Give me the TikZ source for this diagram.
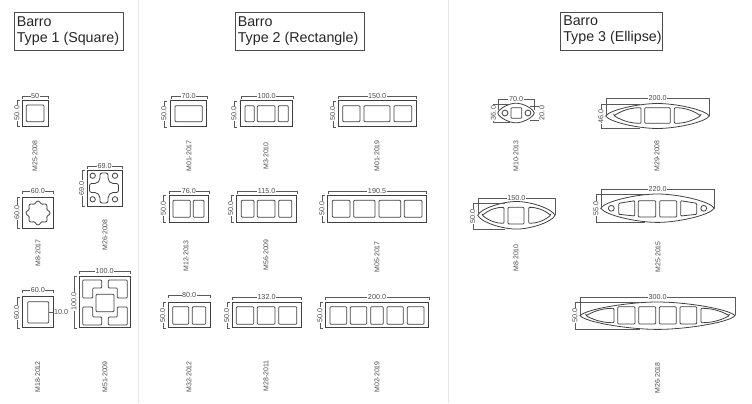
\documentclass[tikz,border=0pt]{standalone}
\usepackage{fontspec}
\setmainfont{Liberation Sans}
\tikzset{
  wall/.style={draw=black!75,line width=0.6pt},
  cell/.style={draw=black!75,line width=0.6pt,rounded corners=0.7pt},
  dimline/.style={draw=black!65,line width=0.3pt},
  dimtext/.style={font=\fontsize{5.4}{6}\selectfont,text=black!70,fill=white,inner sep=0.4pt},
  codetext/.style={font=\fontsize{5.2}{6}\selectfont,text=black!70,rotate=90},
  titlebox/.style={draw=black!70,line width=0.5pt,inner sep=0pt},
  titletext/.style={font=\fontsize{10.7}{11.8}\selectfont,text=black!85,align=left,inner sep=0pt,anchor=west},
  divider/.style={draw=black!10,line width=1.1pt}
}
% name, x1, x2, y of the line, y where the ends stop, text
\newcommand{\dimh}[6]{\draw[dimline] (#2,#5) -- (#2,#4) -- node[dimtext] (#1) {#6} (#3,#4) -- (#3,#5);}
% name, x of the line, y1, y2, x where the ends stop, text
\newcommand{\dimv}[6]{\draw[dimline] (#5,#3) -- (#2,#3) -- node[dimtext,rotate=90] (#1) {#6} (#2,#4) -- (#5,#4);}
% outer shape: x1, x2, y of the axis, half height
\newcommand{\lens}[4]{\draw[wall] (#1,#3)
  .. controls ({#1+0.04*(#2-#1)},{#3-0.5*#4}) and ({#1+0.32*(#2-#1)},{#3-#4}) .. ({(#1+#2)/2},{#3-#4})
  .. controls ({#2-0.32*(#2-#1)},{#3-#4}) and ({#2-0.04*(#2-#1)},{#3-0.5*#4}) .. (#2,#3)
  .. controls ({#2-0.04*(#2-#1)},{#3+0.5*#4}) and ({#2-0.32*(#2-#1)},{#3+#4}) .. ({(#1+#2)/2},{#3+#4})
  .. controls ({#1+0.32*(#2-#1)},{#3+#4}) and ({#1+0.04*(#2-#1)},{#3+0.5*#4}) .. (#1,#3) -- cycle;}
% end cell: tip x, flat x, y of the axis, y top, y bottom
\newcommand{\tipcell}[5]{\draw[cell] (#1,#3)
  .. controls ({#1+0.35*(#2-#1)},{#4+0.25*(#3-#4)}) and ({#1+0.65*(#2-#1)},#4) .. (#2,#4) -- (#2,#5)
  .. controls ({#1+0.65*(#2-#1)},#5) and ({#1+0.35*(#2-#1)},{#5-0.25*(#5-#3)}) .. (#1,#3) -- cycle;}
\begin{document}
\begin{tikzpicture}[x=0.75pt,y=-0.75pt]
    \useasboundingbox (0,0) rectangle (752,403);
    \draw[divider] (138.5,0) -- (138.5,403);
    \draw[divider] (448.5,0) -- (448.5,403);

    % titles
    \node[titlebox,minimum width=81.75pt,minimum height=28.5pt] (box1) at (68.5,31.5) {};
    \node[titletext] (title1) at (16.5,31) {Barro\\Type 1 (Square)};
    \node[titlebox,minimum width=96.75pt,minimum height=28.5pt] (box2) at (299.5,31.5) {};
    \node[titletext] (title2) at (237.5,31) {Barro\\Type 2 (Rectangle)};
    \node[titlebox,minimum width=77pt,minimum height=28.5pt] (box3) at (611.3,31.5) {};
    \node[titletext] (title3) at (563,30) {Barro\\Type 3 (Ellipse)};

    % codes under the sections
    \foreach \x/\y/\txt in {35/156/M25-2008,38/253/M8-2017,105/235/M26-2008,37.7/377/M18-2012,105/377/M51-2009,
      189/156/M01-2017,266/156/M3-2010,377/156/M01-2019,186/256/M12-2013,266/255/M56-2009,377/257/M05-2017,
      189/377/M32-2012,266/376/M28-2011,377/377/M02-2019,
      516/156/M10-2013,657/156/M29-2008,516/258/M8-2010,658/257/M25-2015,657.5/378/M26-2018}{
    \node[codetext] (\txt) at (\x,\y) {\txt};
    }

    % type 1
    \draw[wall] (22,100) rectangle (48.3,126);
    \draw[cell] (26.3,105) rectangle (44,121.7);
    \dimh{d1a}{22}{48.3}{96}{99}{50}
    \dimv{d1b}{17}{100}{126}{20}{50.0}

    \draw[wall] (22.3,197) rectangle (53.3,228);
    \draw[wall] plot[domain=0:360,samples=97,smooth] ({38+(10.8+1.1*cos(8*\x))*cos(\x)},{213+(10.8+1.1*cos(8*\x))*sin(\x)}) -- cycle;
    \dimh{d2a}{22.3}{53.3}{191}{194}{60.0}
    \dimv{d2b}{17}{197}{228}{20}{60.0}

    \draw[wall] (87,170) rectangle (122.3,206);
    \foreach \x/\y in {92.7/175.7,115/175.7,92.7/199.3,115/199.3}{
    \draw[wall] (\x,\y) circle (2pt);
    }
    \draw[cell,rounded corners=1.6pt] (100,173) -- (108,173) -- (108,180) -- (111,183.5) -- (118.5,183.5) -- (118.5,192.5) -- (111,192.5) -- (108,196) -- (108,203) -- (100,203) -- (100,196) -- (97,192.5) -- (89.5,192.5) -- (89.5,183.5) -- (97,183.5) -- (100,180) -- cycle;
    \dimh{d3a}{87}{122.3}{165.7}{169}{69.0}
    \dimv{d3b}{81.7}{170}{206}{85}{69.0}

    \draw[wall] (22.3,296.7) rectangle (53.3,327.7);
    \draw[cell] (27.7,301.7) rectangle (48.7,323);
    \dimh{d4a}{22.3}{53.3}{290}{293}{60.0}
    \dimv{d4b}{16.7}{296.7}{327.7}{20}{60.0}
    \draw[dimline] (48.7,312) -- (53.3,312) node[dimtext,anchor=west,fill=none] (d4c) {10.0};

    \draw[wall] (79,276) rectangle (130.3,327.7);
    \draw[cell] (96,294.3) rectangle (114,311.7);
    \foreach \sx/\sy in {1/1,-1/1,1/-1,-1/-1}{
    \draw[cell] ({105-\sx*22.3},{302.5-\sy*22.5}) -- ({105-\sx*3.3},{302.5-\sy*22.5}) -- ({105-\sx*3.3},{302.5-\sy*14.5}) -- ({105-\sx*12.3},{302.5-\sy*14.5}) -- ({105-\sx*12.3},{302.5-\sy*4.5}) -- ({105-\sx*22.3},{302.5-\sy*4.5}) -- cycle;
    }
    \dimh{d5a}{79}{130.3}{271}{274}{100.0}
    \dimv{d5b}{74}{276}{327.7}{77}{100.0}

    % type 2, first row
    \draw[wall] (170.7,100.7) rectangle (206.7,126.7);
    \draw[cell] (175,105.7) rectangle (202.3,121.7);
    \dimh{d6a}{170.7}{206.7}{96}{99}{70.0}
    \dimv{d6b}{164}{100.7}{126.7}{167}{50.0}

    \draw[wall] (240.7,100.7) rectangle (292.7,126.7);
    \foreach \a/\b in {245/254.3,257.3/275,278.3/288.3}{
    \draw[cell] (\a,105.7) rectangle (\b,121.7);
    }
    \dimh{d7a}{240.7}{292.7}{96}{99}{100.0}
    \dimv{d7b}{234}{100.7}{126.7}{237}{50.0}

    \draw[wall] (338.3,100.7) rectangle (416,126.7);
    \foreach \a/\b in {342.7/360,364/390,394/411.7}{
    \draw[cell] (\a,105.7) rectangle (\b,121.7);
    }
    \dimh{d8a}{338.3}{416}{96}{99}{150.0}
    \dimv{d8b}{332.7}{100.7}{126.7}{336}{50.0}

    % type 2, second row
    \draw[wall] (169,195.3) rectangle (208.7,222);
    \foreach \a/\b in {173/190.3,193.3/204}{
    \draw[cell] (\a,200.3) rectangle (\b,217.3);
    }
    \dimh{d9a}{169}{208.7}{190.7}{194}{76.0}
    \dimv{d9b}{163.3}{195.3}{222}{166}{50.0}

    \draw[wall] (236.7,195.3) rectangle (296.7,222);
    \foreach \a/\b in {241.3/254,257.3/275,278.7/291.7}{
    \draw[cell] (\a,200.3) rectangle (\b,217.3);
    }
    \dimh{d10a}{236.7}{296.7}{190.7}{194}{115.0}
    \dimv{d10b}{230.7}{195.3}{222}{234}{50.0}

    \draw[wall] (327.7,195.3) rectangle (426.3,222);
    \foreach \a/\b in {332.3/350,353.7/375,379/400.7,404.3/422}{
    \draw[cell] (\a,200.3) rectangle (\b,217.3);
    }
    \dimh{d11a}{327.7}{426.3}{190.7}{194}{190.5}
    \dimv{d11b}{322}{195.3}{222}{325}{50.0}

    % type 2, third row
    \draw[wall] (168.3,302.3) rectangle (210,327.7);
    \foreach \a/\b in {172.7/188.7,192.3/205.7}{
    \draw[cell] (\a,306.7) rectangle (\b,324.3);
    }
    \dimh{d12a}{168.3}{210}{295}{298}{80.0}
    \dimv{d12b}{162.7}{302.3}{327.7}{165.7}{50.0}

    \draw[wall] (232,302.3) rectangle (301,327.7);
    \foreach \a/\b in {236.3/253.7,257.3/275,278.7/296.7}{
    \draw[cell] (\a,306.7) rectangle (\b,324.3);
    }
    \dimh{d13a}{232}{301}{296.7}{300}{132.0}
    \dimv{d13b}{226.7}{302.3}{327.7}{230}{50.0}

    \draw[wall] (325.3,302.3) rectangle (428.7,327.7);
    \foreach \a/\b in {330/346.7,350.3/366.7,370.7/383.3,387/403.3,407.3/424}{
    \draw[cell] (\a,306.7) rectangle (\b,324.3);
    }
    \dimh{d14a}{325.3}{428.7}{296.7}{300}{200.0}
    \dimv{d14b}{320}{302.3}{327.7}{323}{50.0}

    % type 3
    \lens{497.7}{534.3}{113}{9.8}
    \draw[cell] (511,107.7) rectangle (521.7,118.3);
    \draw[wall] (505,113) circle (2.2pt);
    \draw[wall] (528,113) circle (2.2pt);
    \dimh{d15a}{497.7}{534.3}{99.3}{110}{70.0}
    \dimv{d15b}{493.3}{104}{122}{510}{36.0}
    \dimv{d15c}{542}{106}{120}{530}{20.0}

    \lens{605.7}{709.3}{116}{12.5}
    \tipcell{614}{641}{115.7}{107.7}{123.3}
    \draw[cell] (644.7,107.7) rectangle (670.3,123.3);
    \tipcell{700.7}{674.3}{115.7}{107.7}{123.3}
    \dimh{d16a}{605.7}{709.3}{98}{116}{200.0}
    \dimv{d16b}{601}{104}{128.3}{640}{46.0}

    \lens{477.7}{555}{215.3}{13.8}
    \tipcell{482.3}{504}{215.3}{207.3}{223.3}
    \draw[cell] (508,207.3) rectangle (524,224);
    \tipcell{550.7}{528.7}{215.3}{207.3}{223.3}
    \dimh{d17a}{477.7}{555}{197.7}{215}{150.0}
    \dimv{d17b}{472.7}{203.3}{229}{505}{50.0}

    \lens{600.7}{714.3}{208.2}{14.2}
    \draw[wall] (611.3,208.3) circle (2.2pt);
    \draw[wall] (703.7,208.3) circle (2.2pt);
    \draw[cell] (618.7,203.3) -- (634.7,200.7) -- (634.7,216) -- (618.7,214.3) -- cycle;
    \draw[cell] (638.3,200.7) rectangle (655.7,217);
    \draw[cell] (659.7,200.7) rectangle (676.7,217);
    \draw[cell] (696.7,203.3) -- (680.7,200.7) -- (680.7,216) -- (696.7,214.3) -- cycle;
    \dimh{d18a}{600.7}{714.3}{188.7}{208}{220.0}
    \dimv{d18b}{596}{194}{222.3}{645}{55.0}

    \lens{580}{735}{315.7}{13.7}
    \tipcell{586}{614}{315.7}{308.3}{322.7}
    \foreach \a/\b in {617.7/635,638.7/655.7,659.3/676.3,680/696.7}{
    \draw[cell] (\a,306.7) rectangle (\b,324);
    }
    \tipcell{729.3}{701}{315.7}{308.3}{322.7}
    \dimh{d19a}{580}{735}{297.3}{315}{300.0}
    \dimv{d19b}{575}{302.5}{329.3}{640}{50.0}
\end{tikzpicture}
\end{document}
